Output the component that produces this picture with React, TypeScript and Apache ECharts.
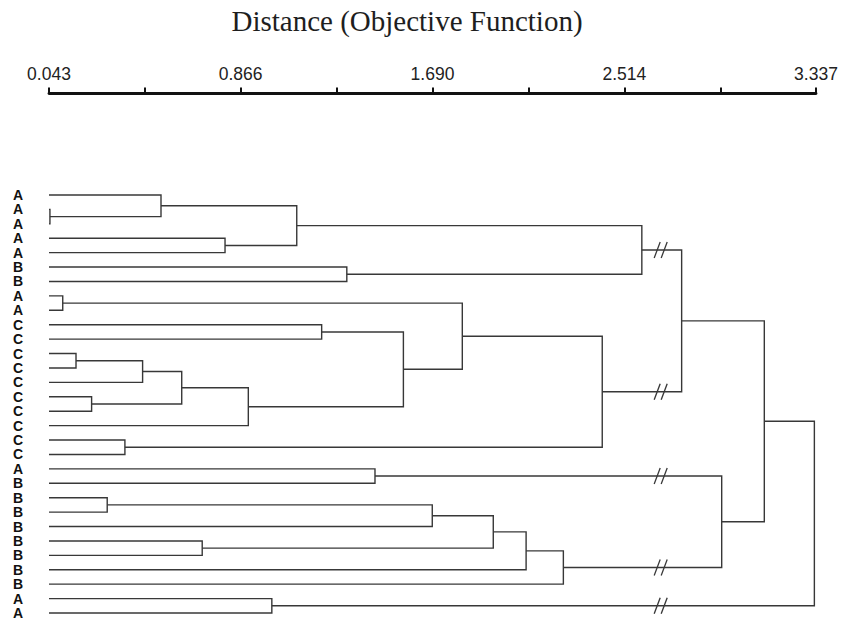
import React, { useEffect, useRef } from "react";
import * as echarts from "echarts";

// Leaf labels, top to bottom
const leafLabels = [
  "A", "A", "A", "A", "A", "B", "B", "A", "A",
  "C", "C", "C", "C", "C", "C", "C", "C", "C", "C",
  "A", "B", "B", "B", "B", "B", "B", "B", "B", "A", "A",
];

// Agglomeration steps: node (leafCount + k) joins mergeLeft[k] and mergeRight[k]
// at distance mergeHeight[k]. Ids below leafCount are leaves.
const mergeLeft = [1, 0, 3, 31, 5, 33, 7, 9, 11, 38, 14, 39, 41, 37, 36, 17, 44, 35, 19, 21, 49, 24, 50, 52, 53, 48, 47, 28, 56];
const mergeRight = [2, 30, 4, 32, 6, 34, 8, 10, 12, 13, 15, 40, 16, 42, 43, 18, 45, 46, 20, 22, 23, 25, 51, 26, 27, 54, 55, 29, 57];
const mergeHeight = [
  0.047, 0.524, 0.799, 1.107, 1.322, 2.589, 0.102, 1.214, 0.159, 0.445,
  0.226, 0.613, 0.899, 1.565, 1.818, 0.369, 2.419, 2.76, 1.443, 0.293,
  1.689, 0.701, 1.951, 2.092, 2.252, 2.932, 3.115, 1.0, 3.33,
];

// Distance ruler
const distanceMin = 0.043;
const distanceMax = 3.337;
const distanceLabels = [0.043, 0.866, 1.69, 2.514, 3.337];
const distanceTicks = [0.043, 0.455, 0.866, 1.278, 1.69, 2.102, 2.514, 2.926, 3.337];

// Links (by child node id) drawn with a "//" break, and where the break sits
const brokenLinks = [35, 46, 48, 54, 57];
const breakDistance = 2.67;

const LINE = "#383838";

function buildTree() {
  const n = leafLabels.length;
  const pos: number[] = [];
  const height: number[] = [];
  for (let i = 0; i < n; i++) {
    pos.push(i);
    height.push(distanceMin);
  }
  const links: number[][] = [];
  for (let k = 0; k < mergeHeight.length; k++) {
    const l = mergeLeft[k];
    const r = mergeRight[k];
    const h = mergeHeight[k];
    pos.push((pos[l] + pos[r]) / 2);
    height.push(h);
    // [node height, left y, right y, left child height, right child height]
    links.push([h, pos[l], pos[r], height[l], height[r]]);
  }
  return { pos, links };
}

export default function App() {
  const ref = useRef<HTMLDivElement>(null);

  useEffect(() => {
    if (!ref.current) return;
    const chart = echarts.init(ref.current, null, { renderer: "svg" });
    const { pos, links } = buildTree();
    const breaks = brokenLinks.map((id) => [breakDistance, pos[id]]);

    chart.setOption({
      animation: false,
      backgroundColor: "#ffffff",
      graphic: [
        {
          type: "text",
          x: 407,
          y: 21,
          silent: true,
          style: {
            text: "Distance (Objective Function)",
            fontFamily: "'Liberation Serif', 'Times New Roman', serif",
            fontSize: 29,
            fill: "#1e1e1e",
            align: "center",
            verticalAlign: "middle",
          },
        },
      ],
      grid: { left: 49, right: 26, top: 195, height: 420.5 },
      xAxis: {
        type: "value",
        position: "top",
        offset: 101.5,
        min: distanceMin,
        max: distanceMax,
        axisLine: { show: true, onZero: false, lineStyle: { color: "#111", width: 2.8 } },
        axisTick: {
          show: true,
          inside: false,
          length: 6,
          customValues: distanceTicks,
          lineStyle: { color: "#111", width: 2 },
        },
        axisLabel: {
          show: true,
          customValues: distanceLabels,
          formatter: (v: number) => v.toFixed(3),
          margin: 11,
          fontFamily: "'Liberation Sans', Arial, sans-serif",
          fontSize: 17.5,
          color: "#222",
        },
        splitLine: { show: false },
      },
      yAxis: {
        type: "value",
        inverse: true,
        min: 0,
        max: leafLabels.length - 1,
        axisLine: { show: false, onZero: false },
        axisTick: { show: false },
        splitLine: { show: false },
        axisLabel: {
          show: true,
          showMinLabel: true,
          showMaxLabel: true,
          hideOverlap: false,
          customValues: leafLabels.map((_, i) => i),
          formatter: (v: number) => leafLabels[Math.round(v)],
          margin: 26,
          fontFamily: "'Liberation Sans', Arial, sans-serif",
          fontWeight: "bold",
          fontSize: 14,
          lineHeight: 14,
          color: "#111",
        },
      },
      series: [
        {
          type: "custom",
          silent: true,
          clip: false,
          data: links,
          dimensions: ["h", "yl", "yr", "hl", "hr"],
          encode: { x: [0, 3, 4], y: [1, 2] },
          renderItem: (params: any, api: any) => {
            const h = api.value(0);
            const yl = api.value(1);
            const yr = api.value(2);
            const hl = api.value(3);
            const hr = api.value(4);
            return {
              type: "polyline",
              shape: {
                points: [
                  api.coord([hl, yl]),
                  api.coord([h, yl]),
                  api.coord([h, yr]),
                  api.coord([hr, yr]),
                ],
              },
              style: { stroke: LINE, lineWidth: 1.4, fill: "none" },
            };
          },
        },
        {
          type: "custom",
          silent: true,
          clip: false,
          data: breaks,
          encode: { x: 0, y: 1 },
          renderItem: (params: any, api: any) => {
            const [cx, cy] = api.coord([api.value(0), api.value(1)]);
            const stroke = (dx: number) => ({
              type: "line",
              shape: { x1: cx + dx - 3, y1: cy + 8, x2: cx + dx + 3, y2: cy - 8 },
              style: { stroke: LINE, lineWidth: 1.3 },
            });
            return { type: "group", children: [stroke(-3.5), stroke(3.5)] };
          },
        },
      ],
    });

    return () => chart.dispose();
  }, []);

  return (
    <div
      ref={ref}
      style={{ position: "fixed", left: 0, top: 0, width: 842, height: 620 }}
    />
  );
}
